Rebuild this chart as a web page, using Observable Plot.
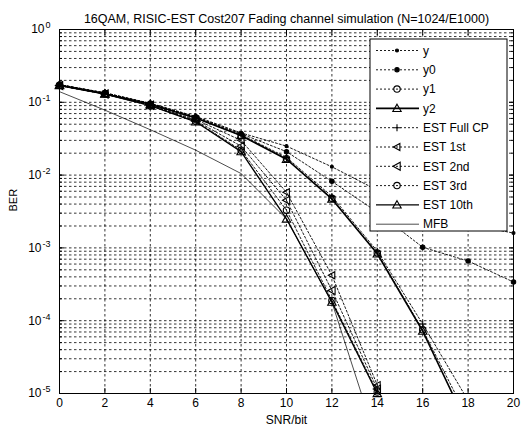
<!DOCTYPE html>
<html><head><meta charset="utf-8">
<script src="https://cdn.jsdelivr.net/npm/d3@7"></script>
<script src="https://cdn.jsdelivr.net/npm/@observablehq/plot@0.6"></script>
<style>body{margin:0;background:#fff;font-family:"Liberation Sans",Arial,sans-serif}</style>
</head><body><div id="chart"></div>
<script>
const snr = [0,2,4,6,8,10,12,14,16,18,20];
const seriesNames = ["y","y0","y1","y2","EST Full CP","EST 1st","EST 2nd","EST 3rd","EST 10th","MFB"];
const yVals      = [0.175,0.135,0.097,0.064,0.038,0.025,0.013,0.0062,0.0032,0.0021,0.0016];
const y0Vals     = [0.175,0.135,0.096,0.063,0.037,0.021,0.0082,0.0031,0.00102,0.00066,0.00034];
const y1Vals     = [0.172,0.132,0.094,0.061,0.035,0.0168,0.0048,0.00085,0.000075,0.0000045,null];
const y2Vals     = [0.172,0.131,0.094,0.061,0.035,0.0165,0.0047,0.00083,0.000072,0.0000035,null];
const estFullVals= [0.174,0.134,0.096,0.062,0.036,0.0175,0.0051,0.0009,0.00009,0.000008,null];
const est1Vals   = [0.17,0.13,0.092,0.058,0.030,0.0058,0.00042,0.000013,null,null,null];
const est2Vals   = [0.17,0.13,0.091,0.056,0.025,0.0045,0.00026,0.0000115,null,null,null];
const est3Vals   = [0.17,0.13,0.090,0.055,0.022,0.0033,0.00019,0.0000105,null,null,null];
const est10Vals  = [0.17,0.13,0.090,0.054,0.021,0.0025,0.00018,0.00001,null,null,null];
const mfbVals    = [0.14,0.078,0.042,0.022,0.0105,0.0025,0.00018,0.0000021,null,null,null];
const xTicks = [0,2,4,6,8,10,12,14,16,18,20];
const yTicks = [1,1e-1,1e-2,1e-3,1e-4,1e-5];
const yExponents = ["0","-1","-2","-3","-4","-5"];

const allVals = [yVals,y0Vals,y1Vals,y2Vals,estFullVals,est1Vals,est2Vals,est3Vals,est10Vals,mfbVals];

const triLeft = {draw(ctx, size){ const r = Math.sqrt(size/Math.PI); ctx.moveTo(-r,0); ctx.lineTo(r*0.8,-r); ctx.lineTo(r*0.8,r); ctx.closePath(); }};
const triUp = {draw(ctx, size){ const r = Math.sqrt(size/Math.PI); ctx.moveTo(0,-r); ctx.lineTo(r,r*0.75); ctx.lineTo(-r,r*0.75); ctx.closePath(); }};
const plusSym = {draw(ctx, size){ const r = Math.sqrt(size/Math.PI); ctx.moveTo(-r,0); ctx.lineTo(r,0); ctx.moveTo(0,-r); ctx.lineTo(0,r); }};

const styles = [
  {dash:"2,2", w:0.9, sym:d3.symbolCircle, r:1.5, fill:"black"},
  {dash:"2,2", w:0.9, sym:d3.symbolCircle, r:2.2, fill:"black"},
  {dash:"2,2", w:0.9, sym:d3.symbolCircle, r:3.2, fill:"none"},
  {dash:null,  w:1.6, sym:triUp, r:4.2, fill:"none"},
  {dash:"2,2", w:0.9, sym:plusSym, r:3.5, fill:"none"},
  {dash:"2,2", w:0.9, sym:triLeft, r:3.6, fill:"none"},
  {dash:"2,2", w:0.9, sym:triLeft, r:4.0, fill:"none"},
  {dash:"2,2", w:0.9, sym:d3.symbolCircle, r:3.2, fill:"none"},
  {dash:null,  w:1.3, sym:triUp, r:4.2, fill:"none"},
  {dash:null,  w:0.7, sym:null, r:0, fill:"none"}
];

const rows = [];
seriesNames.forEach((name,i)=>{
  snr.forEach((x,j)=>{ const v = allVals[i][j]; if (v!=null) rows.push({series:name, idx:i, snr:x, ber:v}); });
});

const minorY = [];
for (let k=-5;k<0;k++) for (let m=1;m<10;m++) minorY.push(m*Math.pow(10,k));
minorY.push(1);

const W=521, H=429, mL=59, mR=8, mT=29, mB=36;
const blank = () => "";

const marks = [
  Plot.ruleY(minorY, {stroke:"black", strokeWidth:0.8, strokeDasharray:"2.5,2.5"}),
  Plot.ruleX(xTicks.slice(1,-1), {stroke:"black", strokeWidth:0.8, strokeDasharray:"2.5,2.5"}),
];
seriesNames.forEach((name,i)=>{
  const s = styles[i];
  const d = rows.filter(r=>r.idx===i);
  marks.push(Plot.line(d, {x:"snr", y:"ber", stroke:"black", strokeWidth:s.w, strokeDasharray:s.dash, clip:true}));
  if (s.sym) marks.push(Plot.dot(d.filter(r=>r.ber>=1e-5), {x:"snr", y:"ber", symbol:()=>s.sym, r:s.r, stroke:"black", fill:s.fill, strokeWidth:1.1}));
});
marks.push(
  Plot.frame({stroke:"black", strokeWidth:1}),
  Plot.axisX({ticks:xTicks, tickSize:-5, tickFormat:d=>String(d), tickPadding:10, fontSize:12, label:null}),
  Plot.axisX({ticks:xTicks, tickSize:-5, anchor:"top", tickFormat:blank, label:null}),
  Plot.axisY({ticks:yTicks, tickSize:-5, tickFormat:d=>"10", tickPadding:14, fontSize:12, label:null}),
  Plot.axisY({ticks:yTicks, tickSize:-5, anchor:"right", tickFormat:blank, label:null}),
  Plot.axisY({ticks:minorY, tickSize:-3, tickFormat:blank, label:null}),
  Plot.axisY({ticks:minorY, tickSize:-3, anchor:"right", tickFormat:blank, label:null}),
  Plot.text(["SNR/bit"], {frameAnchor:"bottom", dy:30, fontSize:12}),
  Plot.text(["BER"], {frameAnchor:"left", dx:-46, rotate:-90, fontSize:11}),
  Plot.text(["16QAM, RISIC-EST Cost207 Fading channel simulation (N=1024/E1000)"], {frameAnchor:"top", dy:-15, fontSize:12.5})
);

const plot = Plot.plot({
  width:W, height:H, marginLeft:mL, marginRight:mR, marginTop:mT, marginBottom:mB,
  style:{fontFamily:'"Liberation Sans",Arial,sans-serif', color:"black", background:"white"},
  x:{domain:[0,20], axis:null},
  y:{type:"log", domain:[1e-5,1], axis:null},
  marks
});

// superscripts on y tick labels
const svg = d3.select(plot);
svg.selectAll('g[aria-label="y-axis tick label"] text').each(function(){
  const t = d3.select(this);
  if (t.text() !== "10") return;
  const i = t.datum();
  t.append("tspan").attr("dy","-0.55em").attr("dx","1").attr("font-size","9").text(yExponents[i]);
});

// legend
const lx=370, ly=39, lw=137, lh=192;
const lg = svg.append("g").attr("font-size",12).attr("text-anchor","start").attr("font-family",'"Liberation Sans",Arial,sans-serif');
lg.append("rect").attr("x",lx).attr("y",ly).attr("width",lw).attr("height",lh).attr("fill","white").attr("stroke","black");
seriesNames.forEach((name,i)=>{
  const s = styles[i];
  const cy = ly + 11.5 + i*19.3;
  lg.append("line").attr("x1",lx+6).attr("x2",lx+49).attr("y1",cy).attr("y2",cy)
    .attr("stroke","black").attr("stroke-width",s.w).attr("stroke-dasharray",s.dash);
  if (s.sym){
    lg.append("path").attr("transform",`translate(${lx+27},${cy})`)
      .attr("d", d3.symbol(s.sym, Math.PI*s.r*s.r)()).attr("fill",s.fill).attr("stroke","black").attr("stroke-width",1.1);
  }
  lg.append("text").attr("x",lx+53).attr("y",cy).attr("dy","0.35em").text(name);
});

document.getElementById("chart").appendChild(plot);
</script>
</body></html>
